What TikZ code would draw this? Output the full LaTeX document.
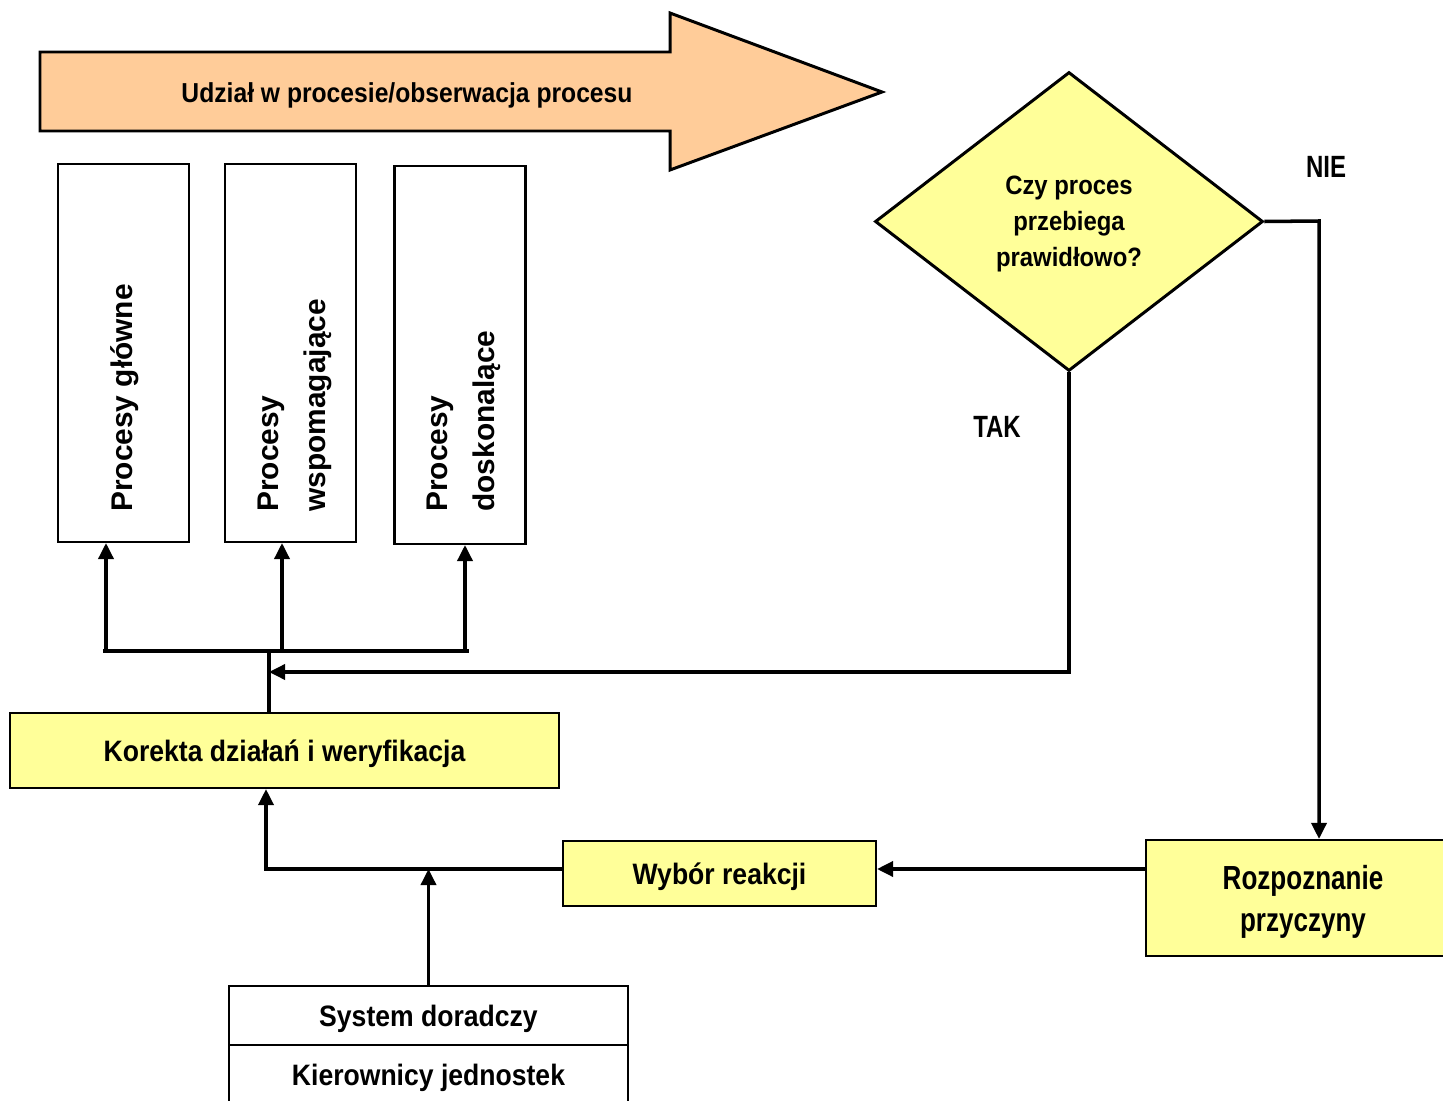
\documentclass[tikz,border=0pt]{standalone}
\usepackage{fontspec}
\setmainfont{Liberation Sans}
\newfontfamily\condfont[FakeStretch=0.9]{Liberation Sans}
\newfontfamily\narrowfont[FakeStretch=0.78]{Liberation Sans}
\usepackage{tikz}
\usetikzlibrary{shapes,arrows,positioning,calc,arrows.meta}
\definecolor{peach}{RGB}{255,204,153}
\definecolor{lightyellow}{RGB}{255,255,153}

\begin{document}
\begin{tikzpicture}[x=0.02cm, y=-0.02cm,
    proc/.style={draw, rectangle, line width=1.2pt, minimum width=2.62cm, minimum height=7.56cm},
    ybox/.style={draw, rectangle, fill=lightyellow, line width=1.2pt, inner sep=0pt},
    wbox/.style={draw, rectangle, line width=1.2pt, inner sep=0pt, minimum width=7.98cm, minimum height=1.18cm},
    cond/.style={text depth=0pt, font=\condfont\bfseries\fontsize{16.8pt}{20pt}\selectfont},
    headtxt/.style={text depth=0pt, font=\condfont\bfseries\fontsize{15.6pt}{19pt}\selectfont},
    asktxt/.style={text depth=0pt, font=\condfont\bfseries\fontsize{15.1pt}{20.4pt}\selectfont},
    lbl/.style={font=\narrowfont\bfseries\fontsize{17.5pt}{22.7pt}\selectfont},
    rot/.style={rotate=90, anchor=west, align=left, inner sep=0pt, font=\bfseries\fontsize{17pt}{26.5pt}\selectfont},
    line/.style={line width=2pt},
    arr/.style={line width=2pt, -{Triangle[width=0.3cm,length=0.32cm]}}]
  \useasboundingbox (0,0) rectangle (1443,1101);

  % Process arrow
  \draw[fill=peach, line width=1.7pt] (40,52) -- (670,52) -- (670,13) -- (882,92)
    -- (670,170) -- (670,131) -- (40,131) -- cycle;
  \node[headtxt] (udzial) at (407,93) {Udział w procesie/obserwacja procesu};

  % Process boxes
  \node[proc] (glowne) at (123.5,353) {};
  \node[proc] (wspom) at (290.5,353) {};
  \node[proc] (dosk) at (460,355) {};
  \node[rot] (glowneT) at (125,512) {Procesy główne};
  \node[rot] (wspomT) at (295,512) {Procesy\\wspomagające};
  \node[rot] (doskT) at (464,512) {Procesy\\doskonalące};

  % Bus to the boxes
  \coordinate (busL) at (103,651);
  \coordinate (busR) at (469,651);
  \coordinate (busM) at (269,651);
  \coordinate (b1) at (106,651);
  \coordinate (b2) at (282,651);
  \coordinate (b3) at (465,651);
  \draw[line] (busL) -- (busR);
  \draw[arr] (b1) -- (b1 |- glowne.south);
  \draw[arr] (b2) -- (b2 |- wspom.south);
  \draw[arr] (b3) -- (b3 |- dosk.south);

  % Correction
  \node[ybox, cond, minimum width=10.98cm, minimum height=1.5cm] (korekta) at (284.5,750.5) {Korekta działań i weryfikacja};
  \draw[line] (korekta.north -| busM) -- (busM);

  % Decision
  \node[draw, diamond, fill=lightyellow, line width=1.7pt, minimum width=7.76cm, minimum height=5.98cm,
    inner sep=0pt, align=center, asktxt] (decyzja) at (1069,221.5) {Czy proces\\przebiega\\prawidłowo?};

  % TAK branch
  \coordinate (takC) at (1070,672);
  \draw[arr] (decyzja.south) |- (busM |- takC);
  \node[lbl] (tak) at (997,427) {TAK};

  % NIE branch
  \node[ybox, lbl, text depth=0pt, font=\narrowfont\bfseries\fontsize{19pt}{24pt}\selectfont,
    minimum width=6.28cm, minimum height=2.32cm, align=center] (przyczyna) at (1303,898) {Rozpoznanie\\przyczyny};
  \coordinate (nieC) at (1319,221);
  \draw[arr] (decyzja.east) -- (nieC) -- (nieC |- przyczyna.north);
  \node[lbl] (nie) at (1326,167) {NIE};

  % Reaction
  \node[ybox, cond, minimum width=6.26cm, minimum height=1.3cm] (wybor) at (719.5,873.5) {Wybór reakcji};
  \coordinate (reakY) at (0,869);
  \coordinate (korIn) at (266,869);
  \draw[arr] (przyczyna.west |- reakY) -- (wybor.east |- reakY);
  \draw[arr] (wybor.west |- korIn) -- (korIn) -- (korIn |- korekta.south);

  % Advisory
  \node[wbox, cond] (doradczy) at (428.5,1015.5) {System doradczy};
  \node[wbox, cond, below=-1.2pt of doradczy] (kierownicy) {Kierownicy jednostek};
  \draw[arr] (doradczy.north) -- (doradczy.north |- korIn);
\end{tikzpicture}
\end{document}
